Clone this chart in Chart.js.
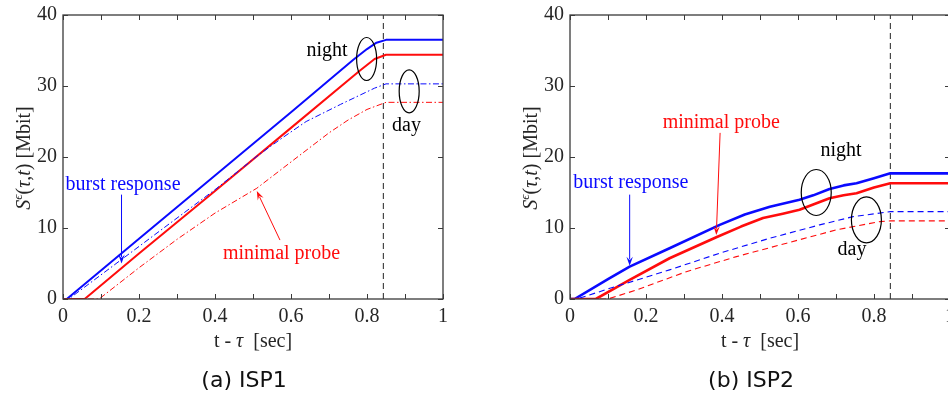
<!DOCTYPE html>
<html>
<head>
<meta charset="utf-8">
<script src="https://cdn.jsdelivr.net/npm/chart.js@4/dist/chart.umd.min.js"></script>
<style>
  html, body { margin: 0; padding: 0; background: #fff; overflow: hidden; }
  #wrap { position: relative; width: 948px; height: 396px; overflow: hidden; }
  canvas { position: absolute; top: 0; }
  #isp1 { left: 0; }
  #isp2 { left: 474px; }
</style>
</head>
<body>
<div id="wrap">
  <canvas id="isp1" width="474" height="396"></canvas>
  <canvas id="isp2" width="480" height="396"></canvas>
</div>
<script>
// ---------- data: S^eps(tau,t) in Mbit versus t - tau in seconds ----------
const xTickLabels = ['0', '0.2', '0.4', '0.6', '0.8', '1'];
const yTicks = [0, 10, 20, 30, 40];
const markerT = [0.843, 0.843];
const markerS = [0, 40];

// ISP1
const isp1NightBurstT = [0, 0.01, 0.2, 0.4, 0.6, 0.764, 0.8, 0.825, 0.85, 1];
const isp1NightBurstS = [0, 0, 8.5, 17.4, 26.3, 33.7, 35.2, 36.1, 36.5, 36.5];
const isp1NightProbeT = [0, 0.057, 0.2, 0.4, 0.6, 0.78, 0.82, 0.85, 1];
const isp1NightProbeS = [0, 0, 6.4, 15.2, 24.1, 32.1, 33.8, 34.4, 34.4];
const isp1DayBurstT = [0, 0.015, 0.2, 0.3, 0.4, 0.51, 0.58, 0.64, 0.73, 0.82, 0.85, 1];
const isp1DayBurstS = [0, 0, 7.4, 11.4, 15.4, 20.1, 22.8, 25.0, 27.4, 29.7, 30.3, 30.3];
const isp1DayProbeT = [0, 0.095, 0.2, 0.3, 0.4, 0.51, 0.6, 0.7, 0.75, 0.8, 0.85, 1];
const isp1DayProbeS = [0, 0, 4.4, 8.4, 12.1, 15.6, 19.3, 23.4, 25.2, 26.7, 27.7, 27.7];

// ISP2
const isp2NightBurstT = [0, 0.012, 0.1, 0.157, 0.262, 0.394, 0.46, 0.526, 0.604, 0.64, 0.683, 0.72, 0.754, 0.8, 0.843, 1];
const isp2NightBurstS = [0, 0, 2.8, 4.56, 7.15, 10.44, 11.9, 13.0, 13.97, 14.6, 15.5, 16.0, 16.3, 17.0, 17.7, 17.7];
const isp2NightProbeT = [0, 0.068, 0.157, 0.262, 0.385, 0.45, 0.508, 0.56, 0.604, 0.64, 0.683, 0.72, 0.754, 0.8, 0.843, 1];
const isp2NightProbeS = [0, 0, 2.68, 5.74, 8.7, 10.2, 11.4, 12.0, 12.56, 13.3, 14.2, 14.6, 14.9, 15.7, 16.3, 16.3];
const isp2DayBurstT = [0, 0.018, 0.105, 0.262, 0.394, 0.526, 0.657, 0.745, 0.843, 1];
const isp2DayBurstS = [0, 0, 1.5, 4.1, 6.45, 8.56, 10.44, 11.6, 12.3, 12.3];
const isp2DayProbeT = [0, 0.1, 0.175, 0.306, 0.438, 0.57, 0.701, 0.815, 0.843, 1];
const isp2DayProbeS = [0, 0, 1.27, 3.85, 5.97, 7.86, 9.74, 10.9, 11.0, 11.0];

// ---------- styling ----------
const BLUE = 'rgb(10,10,255)';
const RED = 'rgb(255,12,12)';
const AXIS = '#3a3a3a';
const SERIF = '"Liberation Serif", "DejaVu Serif", serif';
const SANS = '"DejaVu Sans", sans-serif';

const pts = (ts, ss) => ts.map((t, i) => ({ x: t, y: ss[i] }));

function series(ts, ss, color, width, dash) {
  return {
    data: pts(ts, ss),
    borderColor: color,
    borderWidth: width,
    borderDash: dash || [],
    borderJoinStyle: 'round',
    pointRadius: 0,
    fill: false,
    tension: 0
  };
}

// rich text: pieces of {t, style, size, dy}
function richWidth(ctx, pieces, base) {
  let w = 0;
  for (const p of pieces) {
    ctx.font = `${p.style || ''} ${p.size || base}px ${SERIF}`;
    w += ctx.measureText(p.t).width;
  }
  return w;
}
function drawRich(ctx, pieces, base, x, y) {
  let cx = x;
  for (const p of pieces) {
    ctx.font = `${p.style || ''} ${p.size || base}px ${SERIF}`;
    ctx.fillText(p.t, cx, y + (p.dy || 0));
    cx += ctx.measureText(p.t).width;
  }
}

const yTitle = [
  { t: 'S', style: 'italic' },
  { t: 'ϵ', style: 'italic', size: 13, dy: -8 },
  { t: '(' },
  { t: 'τ', style: 'italic' },
  { t: ',' },
  { t: 't', style: 'italic' },
  { t: ') [Mbit]' }
];
const xTitle = [
  { t: 't - ' },
  { t: 'τ', style: 'italic' },
  { t: '  [sec]' }
];

function arrow(ctx, x0, y0, x1, y1, color) {
  const ang = Math.atan2(y1 - y0, x1 - x0);
  const L = 9, H = 3.2;
  ctx.strokeStyle = color;
  ctx.fillStyle = color;
  ctx.lineWidth = 1;
  ctx.setLineDash([]);
  ctx.beginPath();
  ctx.moveTo(x0, y0);
  ctx.lineTo(x1 - Math.cos(ang) * L * 0.7, y1 - Math.sin(ang) * L * 0.7);
  ctx.stroke();
  ctx.beginPath();
  ctx.moveTo(x1, y1);
  ctx.lineTo(x1 - Math.cos(ang) * L - Math.sin(ang) * H, y1 - Math.sin(ang) * L + Math.cos(ang) * H);
  ctx.lineTo(x1 - Math.cos(ang) * L * 0.6, y1 - Math.sin(ang) * L * 0.6);
  ctx.lineTo(x1 - Math.cos(ang) * L + Math.sin(ang) * H, y1 - Math.sin(ang) * L - Math.cos(ang) * H);
  ctx.closePath();
  ctx.fill();
}

// frame, inward ticks, axis titles, caption and callouts
const framePlugin = {
  id: 'frame',
  afterDraw(chart, args, opts) {
    const { ctx, chartArea: a, scales: { x, y } } = chart;
    ctx.save();
    ctx.setLineDash([]);
    ctx.strokeStyle = AXIS;
    ctx.lineWidth = 1.3;
    ctx.strokeRect(a.left, a.top, a.right - a.left, a.bottom - a.top);
    ctx.lineWidth = 1;
    const tl = 5;
    ctx.beginPath();
    for (const tk of x.ticks) {
      const px = Math.round(x.getPixelForValue(tk.value)) + 0.5;
      ctx.moveTo(px, a.bottom); ctx.lineTo(px, a.bottom - tl);
      ctx.moveTo(px, a.top); ctx.lineTo(px, a.top + tl);
    }
    for (const tk of y.ticks) {
      const py = Math.round(y.getPixelForValue(tk.value)) + 0.5;
      ctx.moveTo(a.left, py); ctx.lineTo(a.left + tl, py);
      ctx.moveTo(a.right, py); ctx.lineTo(a.right - tl, py);
    }
    ctx.stroke();

    // axis titles
    ctx.fillStyle = '#262626';
    ctx.textBaseline = 'alphabetic';
    ctx.textAlign = 'left';
    const cx = (a.left + a.right) / 2;
    const xw = richWidth(ctx, xTitle, 20);
    drawRich(ctx, xTitle, 20, cx - xw / 2, a.bottom + 48);

    ctx.save();
    ctx.translate(a.left - 33, y.getPixelForValue(20) + 1);
    ctx.rotate(-Math.PI / 2);
    const yw = richWidth(ctx, yTitle, 20);
    drawRich(ctx, yTitle, 20, -yw / 2, 0);
    ctx.restore();

    // caption
    ctx.fillStyle = '#111';
    ctx.font = `22px ${SANS}`;
    ctx.textAlign = 'center';
    ctx.fillText(opts.caption, cx - 9, 387);

    // callout texts
    ctx.font = `20px ${SERIF}`;
    for (const n of opts.notes) {
      ctx.fillStyle = n.color;
      ctx.fillText(n.text, x.getPixelForValue(n.x), y.getPixelForValue(n.y));
    }
    // ellipses
    ctx.strokeStyle = '#000';
    ctx.lineWidth = 1.2;
    for (const e of opts.rings) {
      ctx.beginPath();
      ctx.ellipse(x.getPixelForValue(e.x), y.getPixelForValue(e.y), e.rx, e.ry, 0, 0, Math.PI * 2);
      ctx.stroke();
    }
    // arrows
    for (const r of opts.arrows) {
      arrow(ctx, x.getPixelForValue(r.x0), y.getPixelForValue(r.y0),
                 x.getPixelForValue(r.x1), y.getPixelForValue(r.y1), r.color);
    }
    ctx.restore();
  }
};

function makeChart(id, yWidth, padRight, sets, caption, notes, rings, arrows) {
  return new Chart(document.getElementById(id), {
    type: 'line',
    data: { datasets: sets },
    options: {
      responsive: false,
      animation: false,
      devicePixelRatio: 1,
      layout: { padding: { left: 0, right: padRight, top: 15, bottom: 0 } },
      plugins: {
        legend: { display: false },
        tooltip: { enabled: false },
        frame: { caption, notes, rings, arrows }
      },
      scales: {
        x: {
          type: 'linear', min: 0, max: 1,
          grid: { display: false, drawTicks: false },
          border: { display: false },
          ticks: {
            stepSize: 0.1, autoSkip: false, maxRotation: 0, padding: 6,
            color: '#262626', font: { family: SERIF, size: 20 },
            callback: (v) => {
              const k = Math.round(v * 10);
              return k % 2 === 0 ? xTickLabels[k / 2] : '';
            }
          },
          afterFit: (s) => { s.height = 97; s.paddingLeft = 0; s.paddingRight = 0; }
        },
        y: {
          type: 'linear', min: 0, max: 40,
          grid: { display: false, drawTicks: false },
          border: { display: false },
          ticks: {
            stepSize: 10, padding: 6,
            color: '#262626', font: { family: SERIF, size: 20 },
            callback: (v) => (yTicks.includes(v) ? String(v) : '')
          },
          afterFit: (s) => { s.width = yWidth; s.paddingTop = 0; s.paddingBottom = 0; }
        }
      }
    },
    plugins: [framePlugin]
  });
}

const dashDot = [6, 2.5, 1.5, 2.5];
const dashed = [6, 4];

makeChart('isp1', 63, 31, [
  series(isp1DayProbeT, isp1DayProbeS, RED, 1, dashDot),
  series(isp1DayBurstT, isp1DayBurstS, BLUE, 1, dashDot),
  series(isp1NightProbeT, isp1NightProbeS, RED, 2),
  series(isp1NightBurstT, isp1NightBurstS, BLUE, 2),
  series(markerT, markerS, '#222', 1, dashed)
], '(a) ISP1',
[
  { text: 'burst response', x: 0.158, y: 15.4, color: BLUE },
  { text: 'minimal probe', x: 0.575, y: 5.7, color: RED },
  { text: 'night', x: 0.695, y: 34.2, color: '#000' },
  { text: 'day', x: 0.904, y: 23.6, color: '#000' }
],
[
  { x: 0.799, y: 33.8, rx: 10, ry: 21.5 },
  { x: 0.911, y: 29.25, rx: 10, ry: 21.5 }
],
[
  { x0: 0.154, y0: 14.7, x1: 0.154, y1: 5.0, color: BLUE },
  { x0: 0.571, y0: 8.3, x1: 0.51, y1: 15.2, color: RED }
]);

makeChart('isp2', 96, 4, [
  series(isp2DayProbeT, isp2DayProbeS, RED, 1.1, dashed),
  series(isp2DayBurstT, isp2DayBurstS, BLUE, 1.1, dashed),
  series(isp2NightProbeT, isp2NightProbeS, RED, 2.6),
  series(isp2NightBurstT, isp2NightBurstS, BLUE, 2.6),
  series(markerT, markerS, '#222', 1, dashed)
], '(b) ISP2',
[
  { text: 'burst response', x: 0.160, y: 15.6, color: BLUE },
  { text: 'minimal probe', x: 0.398, y: 24.1, color: RED },
  { text: 'night', x: 0.713, y: 20.1, color: '#000' },
  { text: 'day', x: 0.742, y: 6.2, color: '#000' }
],
[
  { x: 0.648, y: 15.0, rx: 15, ry: 23 },
  { x: 0.78, y: 11.15, rx: 15, ry: 23 }
],
[
  { x0: 0.157, y0: 14.7, x1: 0.157, y1: 4.7, color: BLUE },
  { x0: 0.395, y0: 23.4, x1: 0.385, y1: 9.0, color: RED }
]);
</script>
</body>
</html>
